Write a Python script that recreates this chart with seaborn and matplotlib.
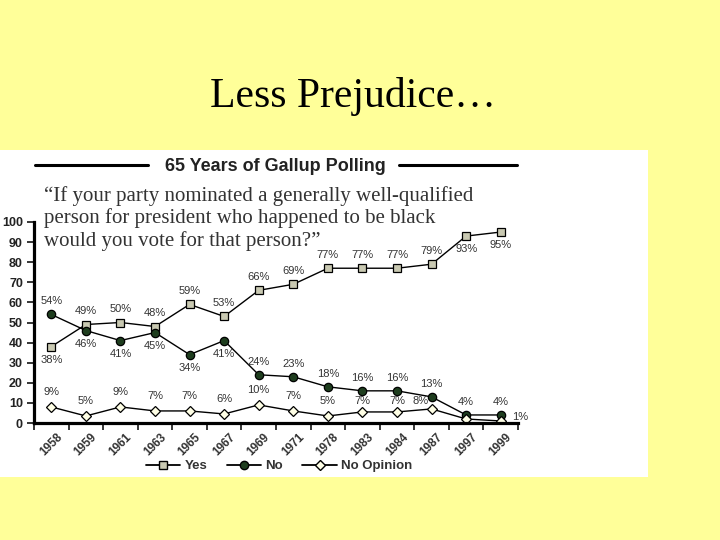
import matplotlib
matplotlib.use('Agg')
import matplotlib.pyplot as plt
import pandas as pd
import seaborn as sns
from matplotlib.lines import Line2D
from matplotlib.patches import Rectangle

# Data
years = ['1958', '1959', '1961', '1963', '1965', '1967', '1969', '1971',
         '1978', '1983', '1984', '1987', '1997', '1999']
yes = [38, 49, 50, 48, 59, 53, 66, 69, 77, 77, 77, 79, 93, 95]
no = [54, 46, 41, 45, 34, 41, 24, 23, 18, 16, 16, 13, 4, 4]
no_opinion = [8, 3.5, 8, 6, 6, 4.5, 9, 6, 3.5, 5.5, 5.5, 7, 2, 1]
no_opinion_labels = ['9%', '5%', '9%', '7%', '7%', '6%', '10%', '7%',
                     '5%', '7%', '7%', '8%', '', '1%']

df = pd.DataFrame({'year': years, 'Yes': yes, 'No': no, 'No Opinion': no_opinion})

sns.set_style('white')
plt.rcParams['font.family'] = ['Liberation Sans', 'DejaVu Sans']

fig = plt.figure(figsize=(7.2, 5.4), dpi=100)
fig.patch.set_facecolor('#FFFF99')
fig.add_artist(Rectangle((0, 63 / 540), 648 / 720, 327 / 540, transform=fig.transFigure,
                         facecolor='white', edgecolor='none', zorder=0))

ax = fig.add_axes([34 / 720, 117 / 540, 484 / 720, 201 / 540])
ax.set_facecolor('none')

common = dict(color='black', linewidth=1.0, markeredgecolor='black',
              markeredgewidth=0.9, sort=False, ax=ax)
sns.lineplot(data=df, x='year', y='Yes', marker='s', markersize=6,
             markerfacecolor='#C9C9B2', **common)
sns.lineplot(data=df, x='year', y='No', marker='o', markersize=6,
             markerfacecolor='#1E3D1E', **common)
sns.lineplot(data=df, x='year', y='No Opinion', marker='D', markersize=5.5,
             markerfacecolor='#FFFFE6', **common)

lab = dict(fontsize=8, color='#333333', ha='center', va='center',
           textcoords='offset points')
yes_below = {'1958', '1997', '1999'}
for i, v in enumerate(yes):
    dy = -9.5 if years[i] in yes_below else 9.5
    ax.annotate(f'{v}%', (i, v), xytext=(0, dy), **lab)
no_above = {'1958', '1969', '1971', '1978', '1983', '1984', '1987', '1997', '1999'}
for i, v in enumerate(no):
    dy = 9.5 if years[i] in no_above else -9.5
    ax.annotate(f'{v}%', (i, v), xytext=(0, dy), **lab)
for i, (v, t) in enumerate(zip(no_opinion, no_opinion_labels)):
    if t == '1%':
        ax.annotate(t, (i, v), xytext=(14, 3), **lab)
    elif t == '8%':
        ax.annotate(t, (i, v), xytext=(-8, 6), **lab)
    elif years[i] in ('1983', '1984'):
        ax.annotate(t, (i, v), xytext=(0, 8), **lab)
    elif t:
        ax.annotate(t, (i, v), xytext=(0, 10.5), **lab)

ax.set_xlim(-0.5, 13.5)
ax.set_ylim(0, 100)
ax.set_yticks(range(0, 101, 10))
ax.set_xticks(range(len(years)))
ax.set_xticks([i + 0.5 for i in range(-1, len(years))], minor=True)
ax.set_xticklabels(years, rotation=45, ha='center', va='top',
                   fontsize=8.5, fontweight='bold', color='#333333')
for t in ax.get_yticklabels():
    t.set_fontsize(9)
    t.set_fontweight('bold')
    t.set_color('#222222')
ax.tick_params(axis='x', which='major', length=0, pad=6)
ax.tick_params(axis='x', which='minor', length=5, width=1.3, direction='out', bottom=True)
ax.tick_params(axis='y', length=5, width=1.3, direction='out', left=True, pad=3)
ax.set_xlabel('')
ax.set_ylabel('')
sns.despine(ax=ax)
for s in ['left', 'bottom']:
    ax.spines[s].set_linewidth(2.3)
    ax.spines[s].set_color('black')

handles = [
    Line2D([], [], color='black', lw=1.3, marker='s', markersize=6,
           markerfacecolor='#C9C9B2', markeredgecolor='black'),
    Line2D([], [], color='black', lw=1.3, marker='o', markersize=6,
           markerfacecolor='#1E3D1E', markeredgecolor='black'),
    Line2D([], [], color='black', lw=1.3, marker='D', markersize=5.5,
           markerfacecolor='#FFFFE6', markeredgecolor='black'),
]
leg = fig.legend(handles, ['Yes', 'No', 'No Opinion'], loc='center',
                 bbox_to_anchor=(279 / 720, (540 - 466) / 540), ncol=3,
                 frameon=False, handlelength=2.6, handletextpad=0.3,
                 columnspacing=1.5, prop={'size': 9.5, 'weight': 'bold'})
for t in leg.get_texts():
    t.set_color('#333333')

# slide title
fig.text(353 / 720, (540 - 107) / 540, 'Less Prejudice…', ha='center', va='baseline',
         fontsize=30, color='black', family=['Liberation Serif', 'DejaVu Serif'])

# chart header with rules on both sides
hy = (540 - 166) / 540
fig.text(275 / 720, hy, '65 Years of Gallup Polling', ha='center', va='center',
         fontsize=13, fontweight='bold', color='#222222')
fig.add_artist(Line2D([35 / 720, 148 / 720], [hy + 1 / 540] * 2, color='black', lw=2.2))
fig.add_artist(Line2D([399 / 720, 517 / 720], [hy + 1 / 540] * 2, color='black', lw=2.2))

quote = ['“If your party nominated a generally well-qualified',
         'person for president who happened to be black',
         'would you vote for that person?”']
for k, line in enumerate(quote):
    fig.text(44 / 720, (540 - 201 - 22.5 * k) / 540, line, ha='left', va='baseline',
             fontsize=15, color='#333333', family=['Liberation Serif', 'DejaVu Serif'])

fig.savefig('out.png', dpi=100, facecolor=fig.get_facecolor())
